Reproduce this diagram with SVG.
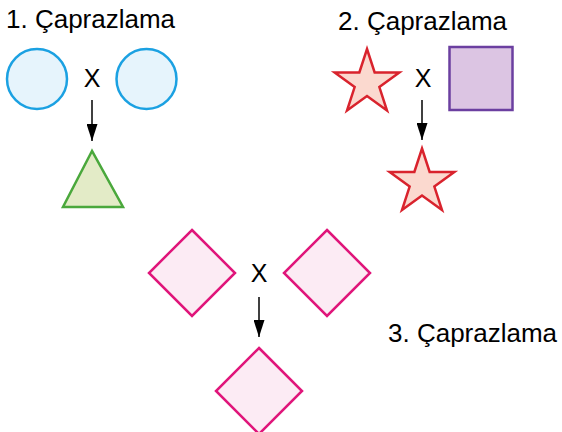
<svg xmlns="http://www.w3.org/2000/svg" xmlns:xlink="http://www.w3.org/1999/xlink" width="562" height="432" viewBox="0 0 562 432">
<style>
text{font-family:"Liberation Sans",Arial,sans-serif;fill:#000}
.title{font-size:26px}
.x{font-size:25px;text-anchor:middle}
.circle{fill:#e6f4fc;stroke:#1ba1e2;stroke-width:2.5}
.tri{fill:#e3ebc7;stroke:#4aa83c;stroke-width:2.5;stroke-linejoin:miter}
.star{fill:#fbd9cf;stroke:#d9232d;stroke-width:2.5}
.square{fill:#dcc5e3;stroke:#6b3fa0;stroke-width:2.5}
.diamond{fill:#fcebf4;stroke:#e0157a;stroke-width:2.5}
.conn{stroke:#000;stroke-width:1.5;fill:none}
</style>
<defs>
<marker id="ah" viewBox="0 0 17 11" refX="17" refY="5.5" markerWidth="17" markerHeight="11" markerUnits="userSpaceOnUse" orient="auto">
<path d="M0,0 L17,5.5 L0,11 Z" fill="#000"/>
</marker>
<polygon id="starShape" points="0,-34 7.64,-10.52 32.34,-10.51 12.36,4.02 19.99,27.51 0,13 -19.99,27.51 -12.36,4.02 -32.34,-10.51 -7.64,-10.52"/>
<polygon id="diamondShape" points="0,-43 43,0 0,43 -43,0"/>
</defs>
<rect width="562" height="432" fill="#fff"/>

<g id="labels">
<text class="title" x="6" y="28">1. Çaprazlama</text>
<text class="title" x="338" y="30">2. Çaprazlama</text>
<text class="title" x="388" y="342">3. Çaprazlama</text>
<text class="x" x="92" y="87">X</text>
<text class="x" x="423" y="87">X</text>
<text class="x" x="259" y="282">X</text>
</g>

<g id="connectors">
<line class="conn" x1="92" y1="100" x2="92" y2="141" marker-end="url(#ah)"/>
<line class="conn" x1="422" y1="100" x2="422" y2="140" marker-end="url(#ah)"/>
<line class="conn" x1="259" y1="297" x2="259" y2="337" marker-end="url(#ah)"/>
</g>

<g id="circle1"><circle class="circle" cx="37" cy="79" r="30"/></g>
<g id="circle2"><circle class="circle" cx="146.5" cy="79" r="30"/></g>
<g id="triangle"><polygon class="tri" points="92,151 63,207 123,207"/></g>

<g id="star1"><use xlink:href="#starShape" href="#starShape" class="star" transform="translate(367,83)"/></g>
<g id="square"><rect class="square" x="449.5" y="47" width="63" height="63"/></g>
<g id="star2"><use xlink:href="#starShape" href="#starShape" class="star" transform="translate(422,182.5)"/></g>

<g id="diamond1"><use xlink:href="#diamondShape" href="#diamondShape" class="diamond" transform="translate(192,273)"/></g>
<g id="diamond2"><use xlink:href="#diamondShape" href="#diamondShape" class="diamond" transform="translate(327,273)"/></g>
<g id="diamond3"><use xlink:href="#diamondShape" href="#diamondShape" class="diamond" transform="translate(259,391)"/></g>
</svg>
